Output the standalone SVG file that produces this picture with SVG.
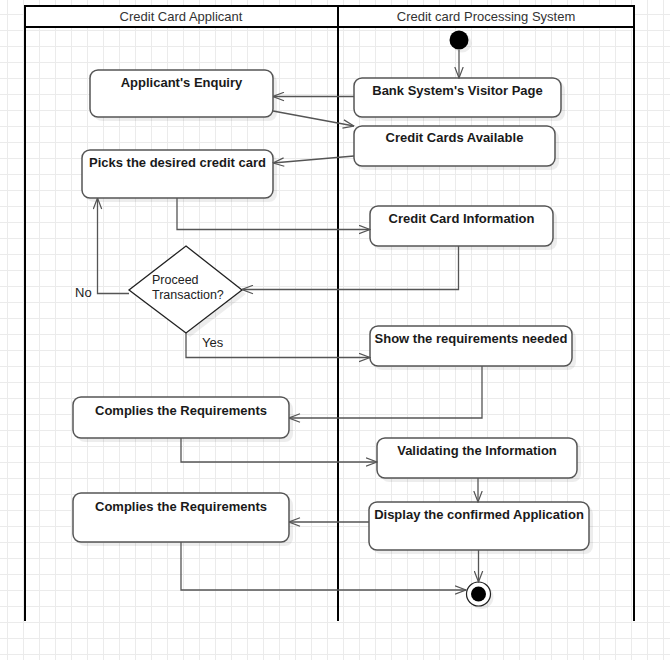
<svg xmlns="http://www.w3.org/2000/svg" width="670" height="660" viewBox="0 0 670 660">
<defs>
<pattern id="grid" x="7" y="14" width="16" height="16" patternUnits="userSpaceOnUse">
<path d="M0 0.5H16M0.5 0V16" fill="none" stroke="#ebebeb" stroke-width="1"/>
</pattern>
<marker id="arr" viewBox="0 0 12 10" refX="11.5" refY="5" markerWidth="12" markerHeight="10" markerUnits="userSpaceOnUse" orient="auto">
<path d="M0.5 0.8L11.5 5L0.5 9.2" fill="none" stroke="#555" stroke-width="1.2"/>
</marker>
</defs>
<style>
.node{fill:#fff;stroke:#555;stroke-width:1.5}
.shadow{fill:#000;opacity:0.07}
.lbl{font-family:"Liberation Sans",Arial,sans-serif;font-size:13px;font-weight:bold;fill:#1a1a1a;text-anchor:middle}
.txt{font-family:"Liberation Sans",Arial,sans-serif;font-size:13px;fill:#222}
.dtxt{font-family:"Liberation Sans",Arial,sans-serif;font-size:12.5px;fill:#222}
.hdr{font-family:"Liberation Sans",Arial,sans-serif;font-size:13px;fill:#333;text-anchor:middle}
.lane{fill:none;stroke:#000;stroke-width:2}
.edge{fill:none;stroke:#555;stroke-width:1.3;marker-end:url(#arr)}
</style>
<rect width="670" height="660" fill="#fff"/>
<rect width="670" height="660" fill="url(#grid)"/>

<g id="swimlanes">
<rect x="25" y="6" width="609" height="21" fill="#fff"/>
<path class="lane" d="M25 621V6H634V621M25 27H634M338 6V621"/>
<text class="hdr" x="181" y="20.5">Credit Card Applicant</text>
<text class="hdr" x="486" y="20.5">Credit card Processing System</text>
</g>

<g id="start">
<circle cx="462" cy="43" r="9.5" class="shadow"/>
<circle cx="459" cy="40" r="9.5" fill="#000"/>
</g>

<g id="n-enquiry">
<rect x="94" y="74" width="183" height="47" rx="8" class="shadow"/>
<rect x="90" y="70" width="183" height="47" rx="8" class="node"/>
<text class="lbl" x="181.5" y="87">Applicant's Enquiry</text>
</g>

<g id="n-visitor">
<rect x="358" y="82" width="207" height="39" rx="8" class="shadow"/>
<rect x="354" y="78" width="207" height="39" rx="8" class="node"/>
<text class="lbl" x="457.5" y="95">Bank System's Visitor Page</text>
</g>

<g id="n-available">
<rect x="358" y="130" width="201" height="40" rx="8" class="shadow"/>
<rect x="354" y="126" width="201" height="40" rx="8" class="node"/>
<text class="lbl" x="454.5" y="142">Credit Cards Available</text>
</g>

<g id="n-picks">
<rect x="86" y="154" width="191" height="48" rx="8" class="shadow"/>
<rect x="82" y="150" width="191" height="48" rx="8" class="node"/>
<text class="lbl" x="177.5" y="167">Picks the desired credit card</text>
</g>

<g id="n-info">
<rect x="374" y="210" width="183" height="40" rx="8" class="shadow"/>
<rect x="370" y="206" width="183" height="40" rx="8" class="node"/>
<text class="lbl" x="461.5" y="223">Credit Card Information</text>
</g>

<g id="n-decision">
<polygon points="190,250 246,294 190,337 133,294" class="shadow"/>
<polygon points="186,246 242,290 186,333 129,290" fill="#fff" stroke="#222" stroke-width="1.3"/>
<text class="dtxt" x="152" y="284">Proceed</text>
<text class="dtxt" x="152" y="298.5">Transaction?</text>
</g>

<g id="n-show">
<rect x="374" y="330" width="202" height="40" rx="8" class="shadow"/>
<rect x="370" y="326" width="202" height="40" rx="8" class="node"/>
<text class="lbl" x="471" y="343">Show the requirements needed</text>
</g>

<g id="n-complies1">
<rect x="77" y="401" width="216" height="41" rx="8" class="shadow"/>
<rect x="73" y="397" width="216" height="41" rx="8" class="node"/>
<text class="lbl" x="181" y="415">Complies the Requirements</text>
</g>

<g id="n-validating">
<rect x="381" y="442" width="200" height="40" rx="8" class="shadow"/>
<rect x="377" y="438" width="200" height="40" rx="8" class="node"/>
<text class="lbl" x="477" y="455">Validating the Information</text>
</g>

<g id="n-complies2">
<rect x="77" y="497" width="216" height="49" rx="8" class="shadow"/>
<rect x="73" y="493" width="216" height="49" rx="8" class="node"/>
<text class="lbl" x="181" y="511">Complies the Requirements</text>
</g>

<g id="n-display">
<rect x="373" y="506" width="220" height="48" rx="8" class="shadow"/>
<rect x="369" y="502" width="220" height="48" rx="8" class="node"/>
<text class="lbl" x="479" y="519">Display the confirmed Application</text>
</g>

<g id="end">
<circle cx="481.5" cy="597" r="12" class="shadow"/>
<circle cx="478.5" cy="594" r="12" fill="#fff" stroke="#222" stroke-width="1.2"/>
<circle cx="478.5" cy="594" r="7.5" fill="#000"/>
</g>

<g id="connectors">
<path class="edge" d="M459 50V78"/>
<path class="edge" d="M354 96.5H273"/>
<path class="edge" d="M273 111L354 126"/>
<path class="edge" d="M354 156L273 163"/>
<path class="edge" d="M177 198V229.5H370"/>
<path class="edge" d="M458.5 246V289.5H242"/>
<path class="edge" d="M129 293.5H97.5V198"/>
<path class="edge" d="M186 333V357.5H370"/>
<path class="edge" d="M482 366V418H289"/>
<path class="edge" d="M181 438V462H377"/>
<path class="edge" d="M478 478V502"/>
<path class="edge" d="M369 522H289"/>
<path class="edge" d="M181 542V590H466"/>
<path class="edge" d="M478.5 550V582"/>
<text class="txt" x="75" y="297">No</text>
<text class="txt" x="202" y="347">Yes</text>
</g>
</svg>
